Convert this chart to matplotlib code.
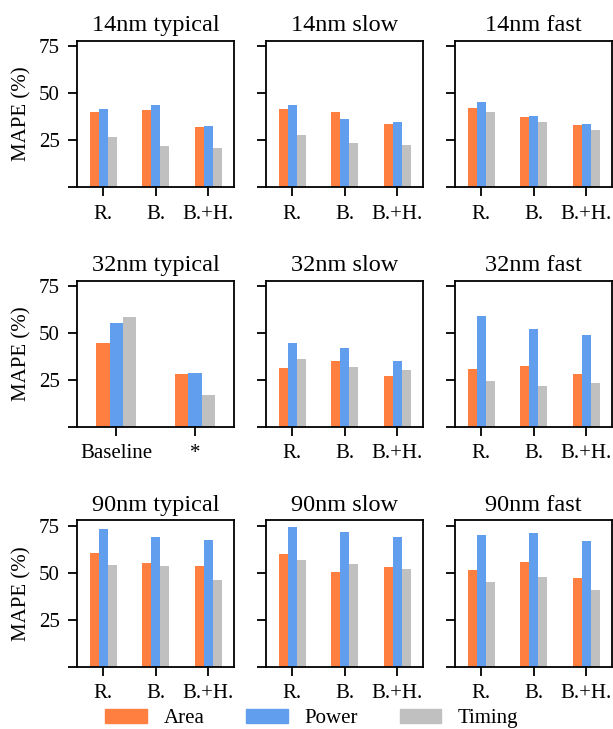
import numpy as np
import matplotlib
matplotlib.use('Agg')
import matplotlib.pyplot as plt
from matplotlib.patches import Patch

plt.rcParams['font.family'] = ['Liberation Serif', 'DejaVu Serif']
plt.rcParams['font.size'] = 15

titles = ['14nm typical', '14nm slow', '14nm fast',
          '32nm typical', '32nm slow', '32nm fast',
          '90nm typical', '90nm slow', '90nm fast']

methods = ['R.', 'B.', 'B.+H.']
methods_32typ = ['Baseline', '*']

# MAPE (%) per panel: [Area, Power, Timing] for each method
area = [
    [40.0, 41.1, 32.1],
    [41.6, 40.0, 33.7],
    [42.2, 37.4, 33.1],
    [44.5, 28.0],
    [31.5, 35.3, 27.3],
    [30.7, 32.3, 28.0],
    [60.5, 55.0, 53.6],
    [59.9, 50.4, 53.0],
    [51.4, 55.7, 47.2],
]
power = [
    [41.6, 43.8, 32.6],
    [43.8, 36.3, 34.7],
    [45.4, 37.9, 33.7],
    [55.2, 28.6],
    [44.9, 42.2, 35.3],
    [58.9, 52.0, 48.8],
    [73.2, 69.0, 67.4],
    [74.3, 71.6, 69.0],
    [70.0, 71.1, 66.9],
]
timing = [
    [26.8, 22.0, 20.9],
    [27.8, 23.6, 22.5],
    [40.0, 34.7, 30.5],
    [58.4, 16.9],
    [36.3, 32.1, 30.5],
    [24.3, 21.6, 23.2],
    [54.1, 53.6, 46.1],
    [56.8, 54.6, 52.0],
    [45.1, 47.7, 40.8],
]

series_names = ['Area', 'Power', 'Timing']
colors = ['#FF7F40', '#619EEE', '#C0C0C0']

fig, axes = plt.subplots(3, 3, figsize=(6.13, 7.29), dpi=100)
fig.subplots_adjust(left=0.1256, right=0.999, top=0.944, bottom=0.0855,
                    wspace=0.2, hspace=0.638)

w = 0.17
for i, ax in enumerate(axes.flat):
    labels = methods_32typ if i == 3 else methods
    x = np.arange(len(labels))
    for k, vals in enumerate([area[i], power[i], timing[i]]):
        ax.bar(x + (k - 1) * w, vals, width=w, color=colors[k])
    ax.set_xlim(-0.5, len(labels) - 0.5)
    ax.set_ylim(0, 78)
    ax.set_xticks(x)
    ax.set_xticklabels(labels)
    ax.set_yticks([0, 25, 50, 75])
    if i % 3 == 0:
        ax.set_yticklabels(['', '25', '50', '75'])
        ax.set_ylabel('MAPE (%)', labelpad=5)
    else:
        ax.set_yticklabels([])
    ax.set_title(titles[i], fontsize=17.5, pad=7)
    for s in ax.spines.values():
        s.set_linewidth(1.3)
    ax.tick_params(length=6.5, width=1.3)
    ax.tick_params(axis='x', pad=6)
    ax.tick_params(axis='y', pad=6)

handles = [Patch(color=c, label=n) for c, n in zip(colors, series_names)]
fig.legend(handles=handles, loc='lower center', bbox_to_anchor=(0.509, -0.025),
           ncol=3, frameon=False, fontsize=15)

plt.savefig('out.png', dpi=100)
